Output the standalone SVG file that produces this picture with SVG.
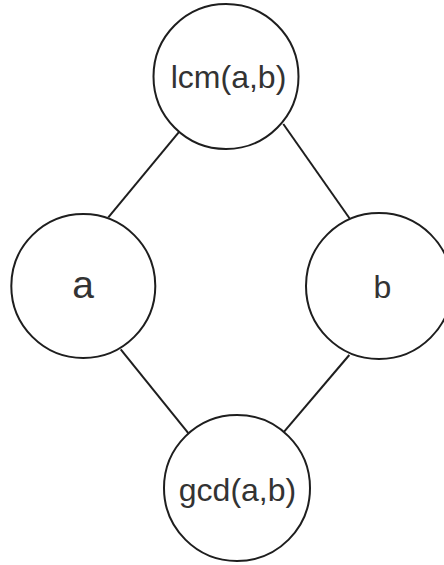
<svg xmlns="http://www.w3.org/2000/svg" width="444" height="565" viewBox="0 0 444 565">
<style>
.n circle{fill:#fff;stroke:#1e1e1e;stroke-width:2}
.n text{font-family:"Liberation Sans",Arial,sans-serif;fill:#333;text-anchor:middle}
.e line{stroke:#1e1e1e;stroke-width:2}
</style>
<rect width="444" height="565" fill="#fff"/>
<g id="connectors" class="e">
<line x1="179.3" y1="131.7" x2="108.3" y2="217.3"/>
<line x1="283.3" y1="124" x2="350" y2="219"/>
<line x1="120.7" y1="349.3" x2="189.3" y2="434.3"/>
<line x1="349.3" y1="355" x2="283.3" y2="432.7"/>
</g>
<g id="lcm" class="n">
<circle cx="226" cy="76.5" r="72.5"/>
<text x="228.5" y="88" font-size="32">lcm(a,b)</text>
</g>
<g id="a" class="n">
<circle cx="83.3" cy="286" r="72"/>
<text x="83" y="298" font-size="39">a</text>
</g>
<g id="b" class="n">
<circle cx="379" cy="286" r="73"/>
<text x="382.5" y="298" font-size="32">b</text>
</g>
<g id="gcd" class="n">
<circle cx="237" cy="488" r="73"/>
<text x="237.5" y="501" font-size="32">gcd(a,b)</text>
</g>
</svg>
